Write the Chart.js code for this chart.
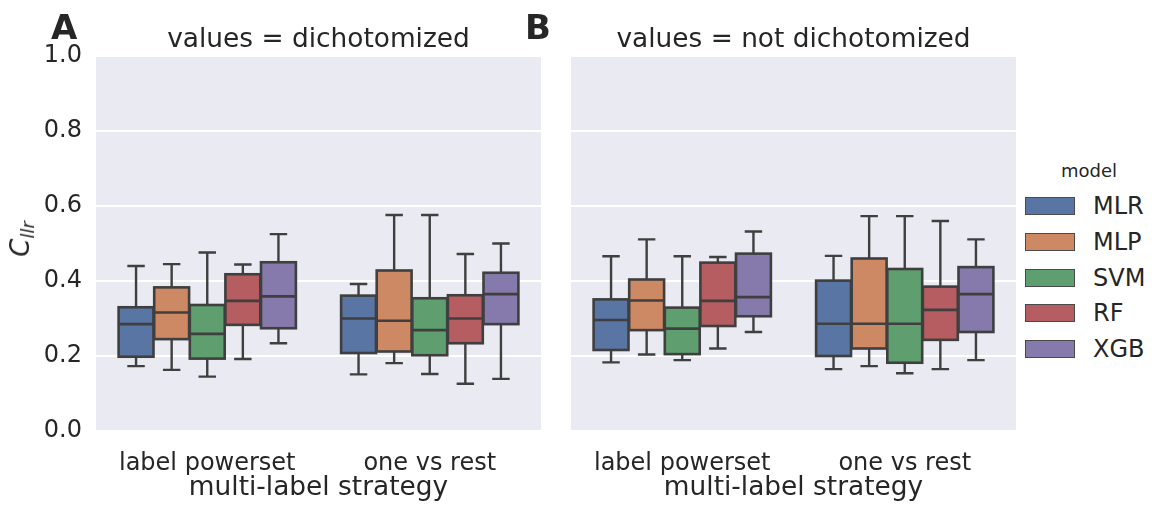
<!DOCTYPE html>
<html>
<head>
<meta charset="utf-8">
<script src="https://cdn.jsdelivr.net/npm/chart.js@4/dist/chart.umd.min.js"></script>
<style>
  body { margin: 0; background: #fff; width: 1155px; height: 506px; position: relative; overflow: hidden;
         font-family: 'DejaVu Sans', sans-serif; color: #262626; }
  canvas { position: absolute; top: 0; }
  #chartA { left: 0; }
  #chartB { left: 556px; }
  .tag { position: absolute; font-weight: bold; font-size: 34px; line-height: 1; }
  #ylabel { position: absolute; left: 22px; top: 239px; transform: translate(-50%, -50%) rotate(-90deg);
            font-style: italic; font-size: 26px; white-space: nowrap; line-height: 1; }
  #ylabel sub { font-size: 18px; vertical-align: -5px; }
  #legend { position: absolute; left: 1025px; top: 160px; }
  #legend .title { position: absolute; left: 36px; top: 0; font-size: 18px; width: 50px; text-align: center; white-space: nowrap; }
  #legend .item { position: absolute; left: 0; height: 18px; }
  #legend .patch { position: absolute; left: 0; top: 0; width: 48px; height: 16px; border: 1px solid #4a4a4a; }
  #legend .lab { position: absolute; left: 68px; top: -5px; font-size: 24px; white-space: nowrap; }
</style>
</head>
<body>
<canvas id="chartA" width="545" height="506"></canvas>
<canvas id="chartB" width="464" height="506"></canvas>
<div class="tag" style="left:51px; top:10px;">A</div>
<div class="tag" style="left:525px; top:10px;">B</div>
<div id="ylabel">C<sub>llr</sub></div>
<div id="legend"></div>

<script>
// categories and hue levels
const strategies = ['label powerset', 'one vs rest'];
const models = ['MLR', 'MLP', 'SVM', 'RF', 'XGB'];
const modelColors = ['#5875a4', '#cc8963', '#5f9e6e', '#b55d60', '#857aab'];
const yTicks = [0, 0.2, 0.4, 0.6, 0.8, 1.0];

// box stats per model, each pair is [label powerset, one vs rest]
// values = dichotomized
const dichLow    = [[0.173, 0.151], [0.163, 0.181], [0.145, 0.152], [0.192, 0.126], [0.234, 0.139]];
const dichQ1     = [[0.198, 0.208], [0.245, 0.212], [0.193, 0.202], [0.283, 0.234], [0.274, 0.285]];
const dichMedian = [[0.285, 0.300], [0.316, 0.294], [0.259, 0.269], [0.347, 0.300], [0.359, 0.365]];
const dichQ3     = [[0.330, 0.361], [0.383, 0.428], [0.336, 0.354], [0.418, 0.362], [0.450, 0.422]];
const dichHigh   = [[0.440, 0.392], [0.445, 0.576], [0.476, 0.576], [0.444, 0.472], [0.525, 0.500]];

// values = not dichotomized
const rawLow    = [[0.183, 0.165], [0.204, 0.173], [0.189, 0.154], [0.220, 0.165], [0.264, 0.189]];
const rawQ1     = [[0.216, 0.200], [0.269, 0.220], [0.205, 0.182], [0.280, 0.243], [0.306, 0.264]];
const rawMedian = [[0.296, 0.286], [0.348, 0.286], [0.273, 0.286], [0.347, 0.323], [0.357, 0.365]];
const rawQ3     = [[0.351, 0.401], [0.404, 0.460], [0.329, 0.432], [0.449, 0.385], [0.473, 0.437]];
const rawHigh   = [[0.466, 0.467], [0.511, 0.573], [0.466, 0.573], [0.464, 0.560], [0.532, 0.511]];

const TEXT = '#262626';
const EDGE = '#3f3f3f';
Chart.defaults.font.family = "'DejaVu Sans', sans-serif";
Chart.defaults.color = TEXT;

// panel background, whiskers, medians, box outlines and panel title
const boxDecor = {
  id: 'boxDecor',
  beforeDraw(chart) {
    const a = chart.chartArea;
    const ctx = chart.ctx;
    ctx.save();
    ctx.fillStyle = '#eaeaf2';
    ctx.fillRect(a.left, a.top, a.right - a.left, a.bottom - a.top);
    ctx.restore();
  },
  afterDatasetsDraw(chart) {
    const ctx = chart.ctx;
    const y = chart.scales.y;
    ctx.save();
    ctx.strokeStyle = EDGE;
    ctx.lineCap = 'butt';
    chart.data.datasets.forEach((ds, i) => {
      chart.getDatasetMeta(i).data.forEach((bar, j) => {
        const x = bar.x;
        const half = bar.width / 2;
        const cap = bar.width / 4;
        const top = Math.min(bar.y, bar.base);
        const bottom = Math.max(bar.y, bar.base);
        const hi = y.getPixelForValue(ds.whiskerHigh[j]);
        const lo = y.getPixelForValue(ds.whiskerLow[j]);
        const med = y.getPixelForValue(ds.median[j]);

        ctx.lineWidth = 2.4;
        ctx.beginPath();
        ctx.moveTo(x, top); ctx.lineTo(x, hi);
        ctx.moveTo(x - cap, hi); ctx.lineTo(x + cap, hi);
        ctx.moveTo(x, bottom); ctx.lineTo(x, lo);
        ctx.moveTo(x - cap, lo); ctx.lineTo(x + cap, lo);
        ctx.stroke();

        ctx.lineWidth = 2.6;
        ctx.strokeRect(x - half, top, bar.width, bottom - top);
        ctx.beginPath();
        ctx.moveTo(x - half, med); ctx.lineTo(x + half, med);
        ctx.stroke();
      });
    });
    ctx.restore();
  },
  afterDraw(chart, args, opts) {
    const a = chart.chartArea;
    const ctx = chart.ctx;
    ctx.save();
    ctx.fillStyle = TEXT;
    ctx.font = "26.4px 'DejaVu Sans'";
    ctx.textAlign = 'center';
    ctx.textBaseline = 'alphabetic';
    ctx.fillText(opts.text, (a.left + a.right) / 2, 47);
    ctx.restore();
  }
};

function makePanel(canvasId, title, low, q1, median, q3, high, showYTicks, padLeft) {
  const datasets = models.map((m, i) => ({
    label: m,
    data: strategies.map((s, j) => [q1[i][j], q3[i][j]]),
    median: median[i],
    whiskerLow: low[i],
    whiskerHigh: high[i],
    backgroundColor: modelColors[i],
    borderWidth: 0,
    categoryPercentage: 0.8,
    barPercentage: 0.98
  }));

  return new Chart(document.getElementById(canvasId), {
    type: 'bar',
    data: { labels: strategies, datasets },
    plugins: [boxDecor],
    options: {
      responsive: false,
      animation: false,
      devicePixelRatio: 1,
      layout: { padding: { top: 56, left: padLeft, right: 4, bottom: 0 } },
      plugins: {
        legend: { display: false },
        tooltip: { enabled: false },
        boxDecor: { text: title }
      },
      scales: {
        x: {
          grid: { display: false },
          border: { display: false },
          ticks: { font: { size: 24 }, color: TEXT, padding: 10 },
          title: {
            display: true, text: 'multi-label strategy', color: TEXT,
            font: { size: 26.4 }, padding: { top: 0, bottom: 2 }
          },
          afterFit(scale) { scale.height = 75; }
        },
        y: {
          min: 0, max: 1,
          afterBuildTicks(scale) { scale.ticks = yTicks.map(v => ({ value: v })); },
          ticks: {
            display: showYTicks, font: { size: 24 }, color: TEXT, padding: 14,
            callback: v => v.toFixed(1)
          },
          grid: { color: '#ffffff', lineWidth: 2, drawTicks: false },
          border: { display: false },
          afterFit(scale) { scale.width = showYTicks ? 96 : 0; }
        }
      }
    }
  });
}

makePanel('chartA', 'values = dichotomized', dichLow, dichQ1, dichMedian, dichQ3, dichHigh, true, 0);
makePanel('chartB', 'values = not dichotomized', rawLow, rawQ1, rawMedian, rawQ3, rawHigh, false, 15);

// legend
const legend = document.getElementById('legend');
legend.innerHTML = '<div class="title">model</div>' + models.map((m, i) =>
  `<div class="item" style="top:${37 + i * 35.8}px"><div class="patch" style="background:${modelColors[i]}"></div><div class="lab">${m}</div></div>`
).join('');
</script>
</body>
</html>
